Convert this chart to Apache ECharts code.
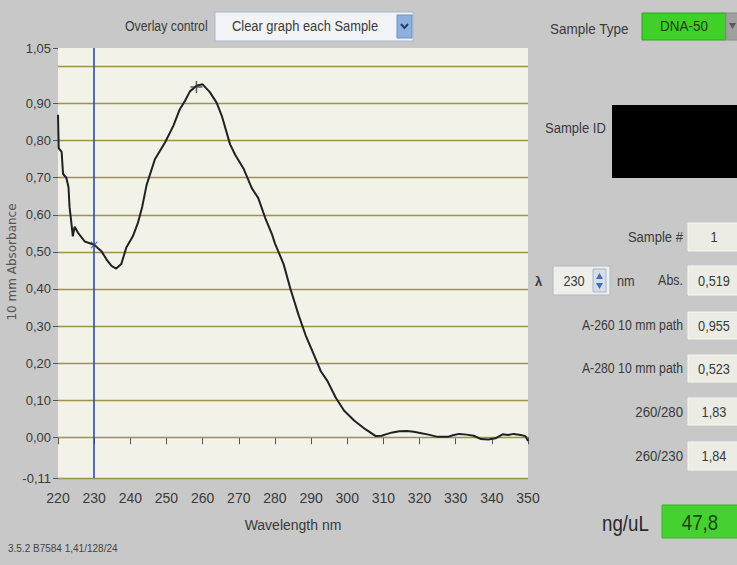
<!DOCTYPE html>
<html><head><meta charset="utf-8">
<script src="https://cdn.jsdelivr.net/npm/echarts@6/dist/echarts.min.js"></script>
<style>html,body{margin:0;padding:0;background:#c8c8c8;}#c{width:737px;height:565px;}</style>
</head><body><div id="c"></div>
<script>
// ---- data ----
const wavelengths = [220.0,220.2,221.0,221.4,222.3,222.9,223.2,223.6,224.1,224.6,225.5,227.4,229.2,230.0,232.0,233.4,234.8,236.1,237.5,238.9,240.7,242.1,243.3,244.5,246.8,249.6,251.9,253.7,255.1,256.5,258.3,260.0,262.0,263.9,265.3,267.6,269.0,271.3,273.6,275.4,277.3,279.2,280.0,282.4,284.3,286.6,288.5,290.8,292.7,294.5,296.8,299.1,301.9,305.1,307.9,309.5,311.1,312.5,314.4,316.5,318.4,320.5,322.5,325.0,327.8,329.5,331.0,333.0,335.0,337.0,339.0,341.0,343.0,344.5,346.0,348.0,349.3,350.0];
const absorbance = [0.870,0.780,0.770,0.710,0.700,0.675,0.620,0.587,0.542,0.568,0.552,0.528,0.522,0.519,0.502,0.480,0.462,0.455,0.467,0.512,0.542,0.578,0.622,0.680,0.750,0.795,0.840,0.885,0.907,0.933,0.948,0.952,0.931,0.902,0.867,0.790,0.762,0.725,0.672,0.645,0.592,0.547,0.523,0.467,0.400,0.328,0.275,0.222,0.178,0.152,0.107,0.072,0.045,0.021,0.003,0.004,0.009,0.013,0.016,0.017,0.015,0.011,0.007,0.001,0.001,0.006,0.009,0.007,0.004,-0.005,-0.006,-0.003,0.008,0.006,0.009,0.006,0.003,-0.010];
const cursorWavelength = 230;
const cursorAbs = 0.519;
const peakMarker = [258.3, 0.945];
const yTickValues = [-0.11,0.00,0.10,0.20,0.30,0.40,0.50,0.60,0.70,0.80,0.90,1.05];
const yGridValues = [0.00,0.10,0.20,0.30,0.40,0.50,0.60,0.70,0.80,0.90,1.00];
const xMin = 220, xMax = 350, xStep = 10;
const yMin = -0.11, yMax = 1.05;
const yAxisTitle = '10 mm Absorbance';
const xAxisTitle = 'Wavelength nm';
// right panel readouts
const sampleType = 'DNA-50';
const overlayChoice = 'Clear graph each Sample';
const sampleNumber = '1';
const lambdaValue = '230';
const absValue = '0,519';
const a260 = '0,955';
const a280 = '0,523';
const r260_280 = '1,83';
const r260_230 = '1,84';
const concentration = '47,8';
const footer = '3.5.2 B7584 1,41/128/24';

const FF = "'Liberation Sans Narrow','Liberation Sans',Arial,sans-serif";
const TXT = '#3a3a3a';
const fmt = v => v.toFixed(2).replace('.', ',');

function label(x, y, text, sx, opts) {
  return {type:'text', x:x, y:y, scaleX:sx||1, style:Object.assign({text:text, font:'15px '+FF, fill:TXT, textVerticalAlign:'middle'}, opts||{})};
}
function box(x, y, w, h, fill, stroke) {
  return {type:'rect', shape:{x:x,y:y,width:w,height:h}, style:{fill:fill, stroke:stroke||'#b8b8b0', lineWidth:1}};
}
function field(y, h, text, labelText, sx) {
  const items = [box(688, y, 60, h, '#ecebe4', '#f7f7f4'),
    label(714, y + h/2, text, 0.85, {textAlign:'center'})];
  if (labelText) items.push(label(683, y + h/2, labelText, sx, {textAlign:'right'}));
  return items;
}

const chart = echarts.init(document.getElementById('c'), null, {renderer:'svg'});
const graphics = [
  // y axis title
  {type:'text', x:12, y:262, rotation:Math.PI/2, style:{text:yAxisTitle, font:"12px 'DejaVu Sans',sans-serif", fill:'#555', textAlign:'center', textVerticalAlign:'middle'}},
  // overlay control
  label(125, 26, 'Overlay control', 0.82),
  box(215, 12, 198, 29, '#f1f3f6', '#a9b8cc'),
  label(232, 26, overlayChoice, 0.86),
  box(397, 15, 15, 23, '#8fb0dc', '#6f8fbf'),
  {type:'polyline', shape:{points:[[401,24],[404.5,28],[408,24]]}, style:{stroke:'#21407a', lineWidth:2, fill:null}},
  // sample type
  label(550, 29, 'Sample Type', 0.9),
  box(642, 13, 84, 27, '#3fd12a', '#2fa41f'),
  label(684, 26, sampleType, 0.9, {textAlign:'center', fill:'#1e3a12'}),
  box(726, 13, 14, 27, '#a0a0a0', '#8a8a8a'),
  {type:'polygon', shape:{points:[[729,23],[736,23],[732.5,29]]}, style:{fill:'#5a5a5a'}},
  // sample id
  label(545, 128, 'Sample ID', 0.87),
  {type:'rect', shape:{x:612,y:105,width:130,height:73}, style:{fill:'#000'}},
  // sample #
  ...field(223, 28, sampleNumber, 'Sample #', 0.87),
  // lambda row
  label(535, 281, 'λ', 1, {font:'bold 13px '+FF}),
  box(553, 266, 57, 29, '#eeeeea', '#b0b8c4'),
  label(574, 281, lambdaValue, 0.85, {textAlign:'center'}),
  box(593, 269, 13, 23, '#d6dde8', '#a9b6c8'),
  {type:'polygon', shape:{points:[[596,279],[599.5,273],[603,279]]}, style:{fill:'#3f6fb6'}},
  {type:'polygon', shape:{points:[[596,283],[599.5,289],[603,283]]}, style:{fill:'#3f6fb6'}},
  label(617, 281, 'nm', 0.85),
  ...field(266, 29, absValue, 'Abs.', 0.83),
  ...field(312, 27, a260, 'A-260 10 mm path', 0.82),
  ...field(355, 27, a280, 'A-280 10 mm path', 0.82),
  ...field(398, 27, r260_280, '260/280', 0.88),
  ...field(442, 28, r260_230, '260/230', 0.88),
  // concentration
  label(602, 523, 'ng/uL', 0.85, {font:'22px '+FF, fill:'#2a2a2a'}),
  box(662, 505, 80, 33, '#45d12f', '#3bb528'),
  label(700, 522, concentration, 0.85, {textAlign:'center', font:'22px '+FF, fill:'#154a10'}),
  // footer
  label(8, 548, footer, 1, {font:'10px '+FF, fill:'#444'})
];

chart.setOption({
  backgroundColor: '#c8c8c8',
  animation: false,
  grid: {left:58, right:209, top:48, bottom:87, show:true, backgroundColor:'#f3f2e8', borderWidth:0, containLabel:false, outerBoundsMode:'none'},
  xAxis: {
    type:'value', min:xMin, max:xMax, interval:xStep,
    name:xAxisTitle, nameLocation:'middle', nameGap:40,
    nameTextStyle:{fontFamily:FF, fontSize:14, color:TXT},
    axisLine:{show:true, lineStyle:{color:'#b9b59a'}},
    axisTick:{show:true, length:7, lineStyle:{color:'#555'}},
    axisLabel:{fontFamily:FF, fontSize:14, color:TXT, margin:13},
    splitLine:{show:false}
  },
  yAxis: {
    type:'value', min:yMin, max:yMax,
    axisLine:{show:false},
    axisTick:{show:true, length:5, customValues:yTickValues, lineStyle:{color:'#555'}},
    axisLabel:{fontFamily:FF, fontSize:13, color:TXT, margin:7, customValues:yTickValues, formatter:v => fmt(v)},
    splitLine:{show:false}
  },
  graphic: graphics,
  series: [
    {
      type:'line', data: wavelengths.map((w,i)=>[w, absorbance[i]]),
      symbol:'none', lineStyle:{color:'#1e2224', width:2}, z:5,
      markLine:{
        silent:true, symbol:'none', label:{show:false},
        data: yGridValues.map(v => ({yAxis:v, lineStyle:{color:'#9a9448', width:1.3, type:'solid'}}))
          .concat([{yAxis:yMin, lineStyle:{color:'#9a9448', width:1.3, type:'solid'}},
                   {xAxis:cursorWavelength, lineStyle:{color:'#3448b0', width:1.6, type:'solid'}}])
      }
    },
    {
      type:'scatter', data:[peakMarker], symbol:'path://M4.4,0H5.6V10H4.4ZM0,4.4H10V5.6H0Z', symbolSize:12,
      itemStyle:{color:'#333'}, z:6
    },
    {
      type:'scatter', data:[[cursorWavelength, cursorAbs]], symbol:'path://M4.4,0H5.6V10H4.4ZM0,4.4H10V5.6H0Z', symbolRotate:45, symbolSize:9,
      itemStyle:{color:'#2e40a8'}, z:6
    }
  ]
});
</script></body></html>
